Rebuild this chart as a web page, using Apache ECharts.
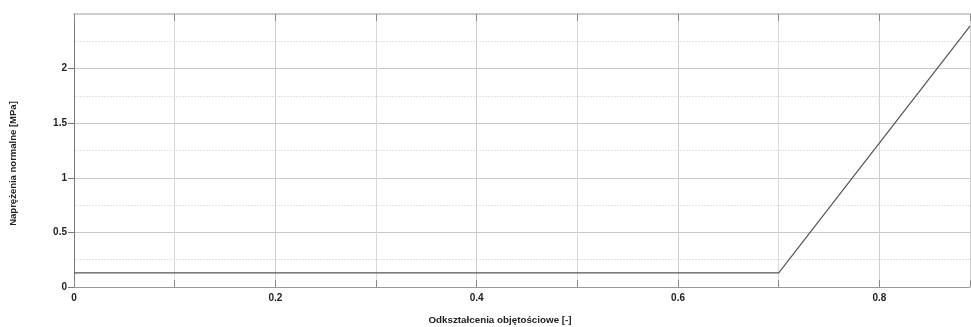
<!DOCTYPE html>
<html>
<head>
<meta charset="utf-8">
<script src="https://cdn.jsdelivr.net/npm/echarts@6/dist/echarts.min.js"></script>
<style>
html, body { margin: 0; padding: 0; background: #fff; }
#chart { width: 971px; height: 327px; }
</style>
</head>
<body>
<div id="chart"></div>
<script>
// Stress–volumetric strain curve
const strain = [0, 0.70, 0.89];
const stress = [0.13, 0.13, 2.39];
const xTickLabels = ['0', '0.2', '0.4', '0.6', '0.8'];
const yTickLabels = ['0', '0.5', '1', '1.5', '2'];

const FONT = 'Liberation Sans, Arial, sans-serif';
const chart = echarts.init(document.getElementById('chart'), null, { renderer: 'canvas' });

const points = strain.map((x, i) => [x, stress[i]]);

function fmt(list) {
  return v => {
    const s = String(Math.round(v * 100) / 100);
    return list.includes(s) ? s : '';
  };
}

chart.setOption({
  animation: false,
  backgroundColor: '#fff',
  grid: { left: 74, right: 1, top: 14, bottom: 40, containLabel: false, outerBoundsMode: 'none' },
  xAxis: [{
    type: 'value', min: 0, max: 0.89, interval: 0.2, position: 'bottom',
    name: 'Odkształcenia objętościowe [-]',
    nameLocation: 'middle', nameGap: 28,
    nameTextStyle: { fontFamily: FONT, fontWeight: 'bold', fontSize: 9.8, color: '#222', padding: [0, 44, 0, 0] },
    axisLine: { show: true, onZero: false, lineStyle: { color: '#999', width: 1 } },
    axisTick: { show: true, inside: true, length: 7, lineStyle: { color: '#888' } },
    minorTick: { show: true, splitNumber: 2, length: 7, lineStyle: { color: '#888' } },
    axisLabel: { formatter: fmt(xTickLabels), showMaxLabel: false, margin: 6, fontFamily: FONT, fontWeight: 'bold', fontSize: 10, color: '#222' },
    splitLine: { show: true, lineStyle: { color: '#cfcfcf', width: 1 } },
    minorSplitLine: { show: true, lineStyle: { color: '#d8d8d8', width: 1 } }
  }, {
    type: 'value', min: 0, max: 0.89, interval: 0.2, position: 'top',
    axisLine: { show: true, onZero: false, lineStyle: { color: '#cdcdcd', width: 2 } },
    axisTick: { show: true, inside: true, length: 7, lineStyle: { color: '#888' } },
    minorTick: { show: true, splitNumber: 2, length: 7, lineStyle: { color: '#888' } },
    axisLabel: { show: false },
    splitLine: { show: false }
  }],
  yAxis: {
    type: 'value', min: 0, max: 2.5, interval: 0.5,
    name: 'Naprężenia normalne [MPa]',
    nameLocation: 'middle', nameGap: 56,
    nameTextStyle: { fontFamily: FONT, fontWeight: 'bold', fontSize: 9.5, color: '#222', padding: [0, 26, 0, 0] },
    axisLine: { show: true, onZero: false, lineStyle: { color: '#777', width: 1 } },
    axisTick: { show: true, inside: false, length: 6, customValues: [0, 0.5, 1, 1.5, 2], lineStyle: { color: '#777' } },
    minorTick: { show: true, splitNumber: 2, length: 0 },
    axisLabel: { formatter: fmt(yTickLabels), showMaxLabel: false, margin: 7, fontFamily: FONT, fontWeight: 'bold', fontSize: 10, color: '#222' },
    splitLine: { show: true, lineStyle: { color: '#c8c8c8', width: 1 } },
    minorSplitLine: { show: true, lineStyle: { color: '#e2e2e2', width: 1, type: [2, 1] } }
  },
  series: [{
    type: 'line',
    data: points,
    symbol: 'none',
    lineStyle: { color: '#555', width: 1.2 },
    clip: true
  }]
});
</script>
</body>
</html>
